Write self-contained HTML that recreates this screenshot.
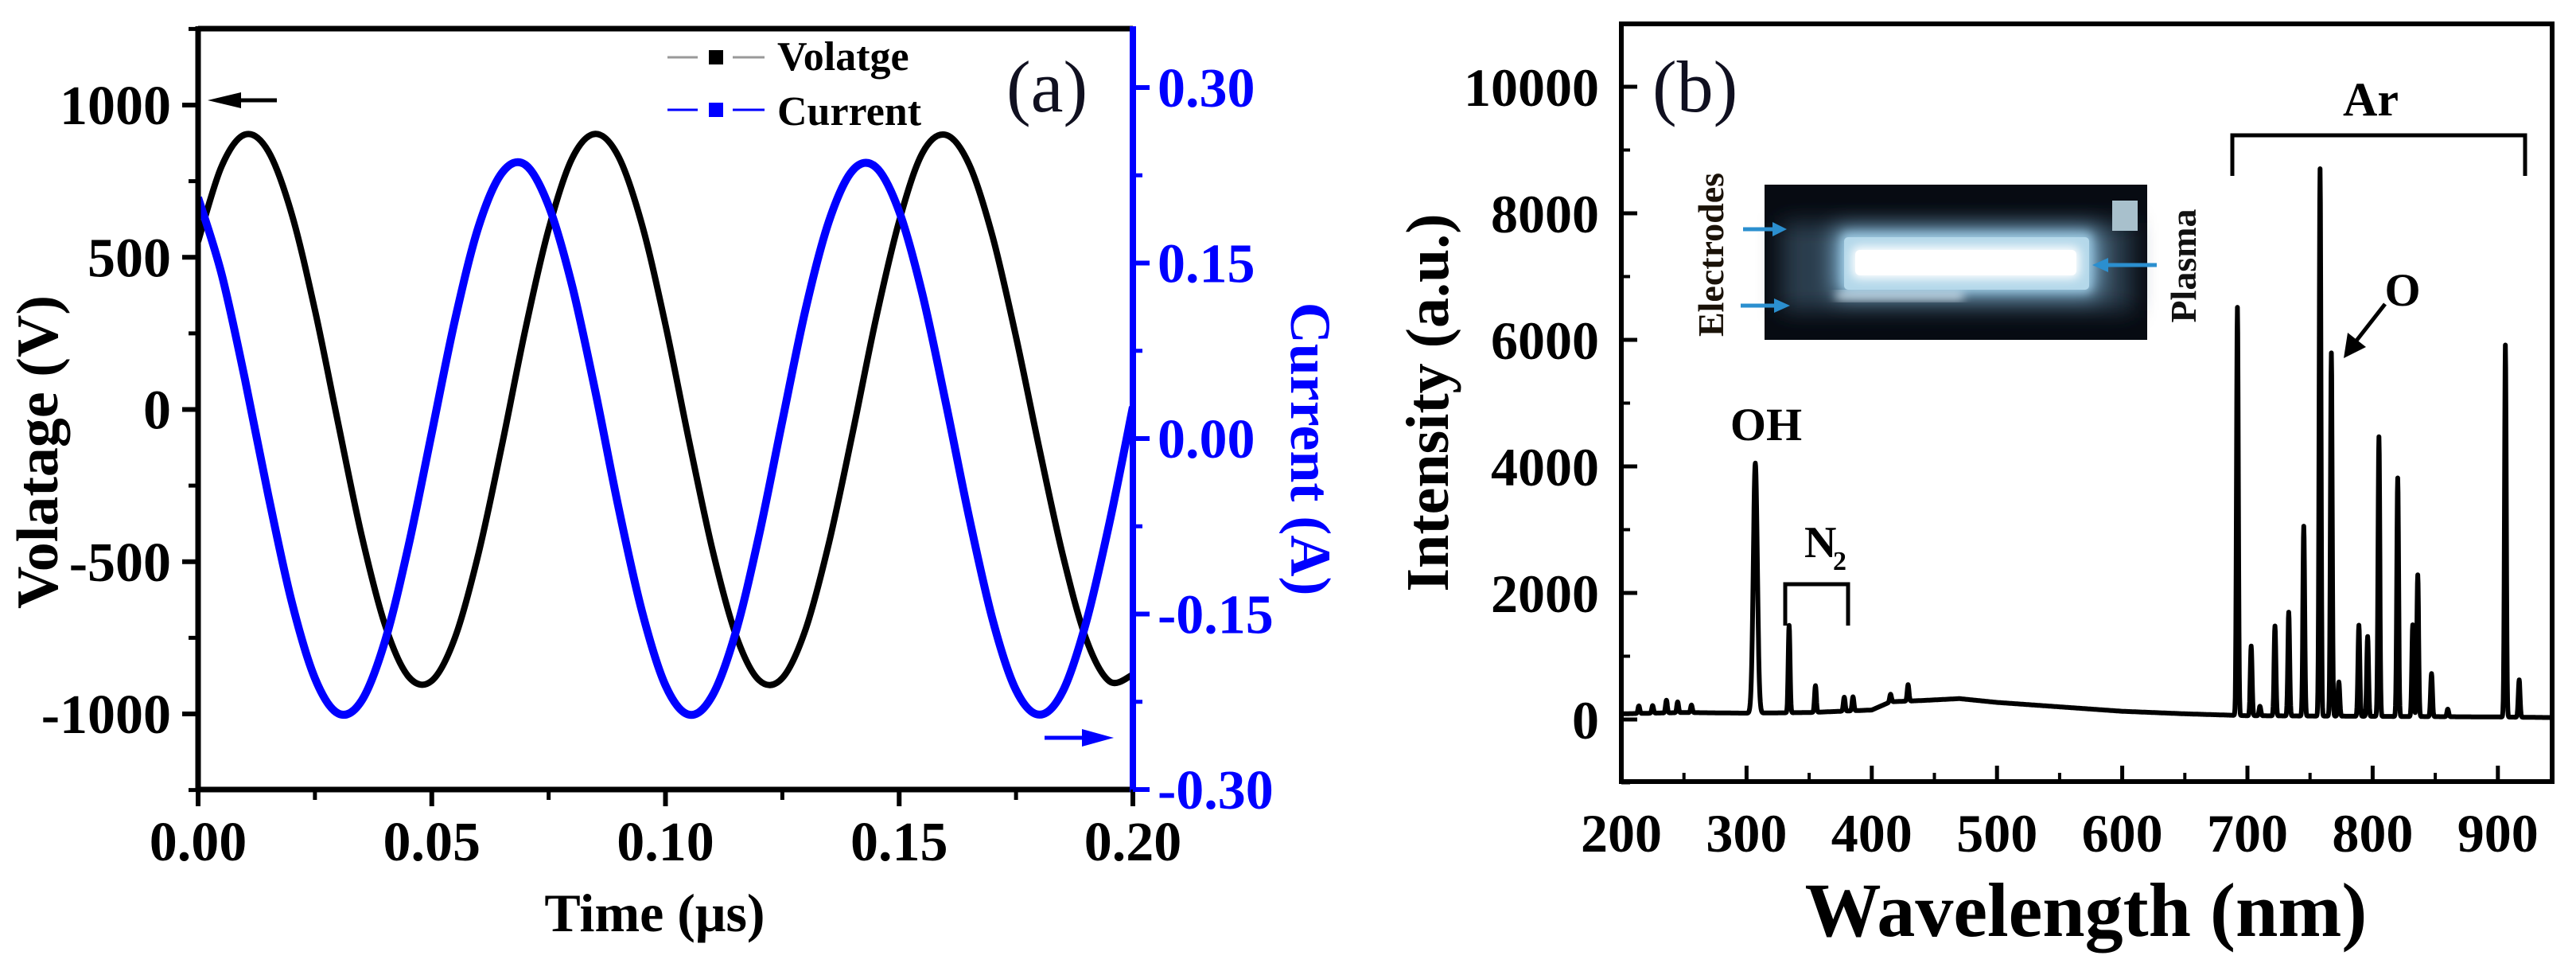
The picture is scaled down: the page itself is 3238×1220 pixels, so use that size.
<!DOCTYPE html>
<html><head><meta charset="utf-8">
<style>
html,body{margin:0;padding:0;background:#fff;}
svg{display:block;font-family:"Liberation Serif",serif;}
</style></head>
<body>
<svg id="fig" width="3238" height="1220" viewBox="0 0 3238 1220" xmlns="http://www.w3.org/2000/svg">
<defs>
  <filter id="blur6" x="-20%" y="-50%" width="140%" height="200%"><feGaussianBlur stdDeviation="6"/></filter>
  <filter id="blur14" x="-30%" y="-80%" width="160%" height="260%"><feGaussianBlur stdDeviation="14"/></filter>
</defs>
<g id="panelA"></g>
<g id="panelB"></g>
</svg>
<script>
// ---------- Panel (a) data ----------
const timeTicks = [0.00, 0.05, 0.10, 0.15, 0.20];
const voltTicks = [-1000, -500, 0, 500, 1000];
const currTicks = [-0.30, -0.15, 0.00, 0.15, 0.30];
const timeSamples = [0,0.005,0.01,0.015,0.02,0.025,0.03,0.035,0.04,0.045,0.05,0.055,0.06,0.065,0.07,0.075,0.08,0.085,0.09,0.095,0.1,0.105,0.11,0.115,0.12,0.125,0.13,0.135,0.14,0.145,0.15,0.155,0.16,0.165,0.17,0.175,0.18,0.185,0.19,0.195,0.2];
const voltageValues = [552,798,903,849,644,326,-48,-414,-708,-877,-891,-748,-473,-118,262,592,824,905,829,606,278,-100,-457,-738,-889,-882,-721,-437,-80,296,619,843,902,804,567,239,-129,-478,-754,-893,-871];
const currentValues = [0.206,0.141,0.051,-0.048,-0.139,-0.205,-0.235,-0.224,-0.173,-0.092,0.005,0.102,0.181,0.227,0.234,0.199,0.131,0.040,-0.060,-0.148,-0.211,-0.236,-0.220,-0.166,-0.083,0.015,0.111,0.186,0.229,0.232,0.194,0.123,0.030,-0.068,-0.155,-0.215,-0.236,-0.216,-0.157,-0.072,0.027];

// ---------- Panel (b) data ----------
const wlTicks = [200,300,400,500,600,700,800,900];
const intTicks = [0,2000,4000,6000,8000,10000];
const continuumWl = [200,250,300,350,400,415,440,470,500,550,600,650,700,750,800,850,900,945];
const continuumInt = [90,110,100,110,150,280,300,330,270,200,130,90,60,55,50,45,40,30];
const lineWl = [214,225,236,245,256,307,334,355,378,385,415,429,692,703,710,722,733,745,758,767,773,789,796,805,820,832,836,847,860,906,917];
const lineInt = [120,120,200,170,120,3950,1380,420,220,220,120,260,6450,1100,150,1420,1640,3000,8650,5740,540,1440,1260,4420,3770,1450,2240,680,120,5880,590];

const NS = "http://www.w3.org/2000/svg";
function mk(parent, tag, attrs, text){
  const e = document.createElementNS(NS, tag);
  for (const k in attrs) e.setAttribute(k, attrs[k]);
  if (text !== undefined) e.textContent = text;
  parent.appendChild(e);
  return e;
}
function smoothPath(pts){
  let d = "M" + pts[0][0].toFixed(1) + "," + pts[0][1].toFixed(1);
  for (let i = 0; i < pts.length - 1; i++){
    const p0 = pts[Math.max(0,i-1)], p1 = pts[i], p2 = pts[i+1], p3 = pts[Math.min(pts.length-1,i+2)];
    const c1x = p1[0] + (p2[0]-p0[0])/6, c1y = p1[1] + (p2[1]-p0[1])/6;
    const c2x = p2[0] - (p3[0]-p1[0])/6, c2y = p2[1] - (p3[1]-p1[1])/6;
    d += " C" + c1x.toFixed(1)+","+c1y.toFixed(1)+" "+c2x.toFixed(1)+","+c2y.toFixed(1)+" "+p2[0].toFixed(1)+","+p2[1].toFixed(1);
  }
  return d;
}

// ================= PANEL A =================
(function(){
  const g = document.getElementById('panelA');
  const L = 249, R = 1424, T = 36, B = 992;
  const xS = t => L + (t - 0) / 0.20 * (R - L);
  const yV = v => 514.5 - v * 0.3825;
  const yI = a => 551 - a * 1470;

  mk(g,'clipPath',{id:'clipA'});
  const cp = g.lastChild; mk(cp,'rect',{x:L,y:T,width:R-L,height:B-T});
  const vPts = timeSamples.map((t,i)=>[xS(t), yV(voltageValues[i])]);
  const cPts = timeSamples.map((t,i)=>[xS(t), yI(currentValues[i])]);
  const vLine = mk(g,'path',{d:smoothPath(vPts),fill:'none',stroke:'#000','stroke-width':8,'clip-path':'url(#clipA)'});
  
  
  const cLine = mk(g,'path',{d:smoothPath(cPts),fill:'none',stroke:'#0000ff','stroke-width':10,'clip-path':'url(#clipA)'});
  
  

  const top = mk(g,'line',{x1:L,y1:T,x2:R,y2:T,stroke:'#000','stroke-width':7});
   
  const bot = mk(g,'line',{x1:L-3,y1:B,x2:R,y2:B,stroke:'#000','stroke-width':7});
   
  const lef = mk(g,'line',{x1:L,y1:T-3,x2:L,y2:B+3,stroke:'#000','stroke-width':7});
   
  const rig = mk(g,'line',{x1:R,y1:T-3,x2:R,y2:B+3,stroke:'#0000ff','stroke-width':8});
   

  for (let i=0;i<timeTicks.length;i++){
    const x = xS(timeTicks[i]);
    mk(g,'line',{x1:x,y1:B,x2:x,y2:B+21,stroke:'#000','stroke-width':6});
    const t = mk(g,'text',{x:x,y:1081,'font-size':70,'font-weight':'bold','text-anchor':'middle'}, timeTicks[i].toFixed(2));
     
    if (i < timeTicks.length-1){
      const xm = xS(timeTicks[i]+0.025);
      mk(g,'line',{x1:xm,y1:B,x2:xm,y2:B+13,stroke:'#000','stroke-width':5});
    }
  }
  for (let i=0;i<voltTicks.length;i++){
    const y = yV(voltTicks[i]);
    mk(g,'line',{x1:L-20,y1:y,x2:L,y2:y,stroke:'#000','stroke-width':6});
    const t = mk(g,'text',{x:215,y:y+24,'font-size':70,'font-weight':'bold','text-anchor':'end'}, String(voltTicks[i]));
     
  }
  for (let v=-1250; v<=1250; v+=250){
    if (v % 500 === 0) continue;
    const y = yV(v);
    mk(g,'line',{x1:L-12,y1:y,x2:L,y2:y,stroke:'#000','stroke-width':5});
  }
  for (let i=0;i<currTicks.length;i++){
    const y = yI(currTicks[i]);
    mk(g,'line',{x1:R,y1:y,x2:R+21,y2:y,stroke:'#0000ff','stroke-width':6});
    const t = mk(g,'text',{x:1455,y:y+24,'font-size':70,'font-weight':'bold','fill':'#0000ff'}, currTicks[i].toFixed(2));
     
  }
  for (let a=-0.225; a<=0.33; a+=0.15){
    const y = yI(a);
    mk(g,'line',{x1:R,y1:y,x2:R+12,y2:y,stroke:'#0000ff','stroke-width':5});
  }
  const xt = mk(g,'text',{x:823,y:1170,'font-size':68,'font-weight':'bold','text-anchor':'middle'},'Time (\u03bcs)');
   
  const yt = mk(g,'text',{x:0,y:0,'font-size':74,'font-weight':'bold','text-anchor':'middle',transform:'translate(72,568) rotate(-90)'},'Volatage (V)');
   
  const rt = mk(g,'text',{x:0,y:0,'font-size':72,'font-weight':'bold','text-anchor':'middle','fill':'#0000ff',transform:'translate(1623,564) rotate(90)'},'Current (A)');
   

  const a1 = mk(g,'g',{});
   
  mk(a1,'line',{x1:300,y1:126,x2:348,y2:126,stroke:'#000','stroke-width':5});
  mk(a1,'path',{d:'M261,126 L303,116 L303,136 Z',fill:'#000'});
  const a2 = mk(g,'g',{});
   
  mk(a2,'line',{x1:1313,y1:927,x2:1365,y2:927,stroke:'#0000ff','stroke-width':5});
  mk(a2,'path',{d:'M1400,927 L1360,916 L1360,938 Z',fill:'#0000ff'});

  const lg = mk(g,'g',{});
   
  const e1 = mk(lg,'g',{});
   
  mk(e1,'line',{x1:839,y1:72,x2:877,y2:72,stroke:'#999','stroke-width':3});
  mk(e1,'line',{x1:921,y1:72,x2:961,y2:72,stroke:'#999','stroke-width':3});
  mk(e1,'rect',{x:891,y:63,width:18,height:18,fill:'#000'});
  mk(e1,'text',{x:977,y:88,'font-size':52,'font-weight':'bold'},'Volatge');
  const e2 = mk(lg,'g',{});
   
  mk(e2,'line',{x1:839,y1:138,x2:877,y2:138,stroke:'#0000ff','stroke-width':3});
  mk(e2,'line',{x1:921,y1:138,x2:961,y2:138,stroke:'#0000ff','stroke-width':3});
  mk(e2,'rect',{x:891,y:129,width:18,height:18,fill:'#0000ff'});
  mk(e2,'text',{x:977,y:157,'font-size':52,'font-weight':'bold'},'Current');
  const pa = mk(g,'text',{x:1265,y:140,'font-size':92,fill:'#101020'},'(a)');
   
})();

// ================= PANEL B =================
(function(){
  const g = document.getElementById('panelB');
  const L = 2038, R = 3208, T = 30, B = 982;
  const xW = w => L + (w - 200) * 1.574;
  const yN = v => 904 - v * 0.0795;

  mk(g,'clipPath',{id:'clipB'});
  mk(g.lastChild,'rect',{x:L,y:T,width:R-L,height:B-T});
  function cont(w){
    for (let i=0;i<continuumWl.length-1;i++){
      if (w>=continuumWl[i] && w<=continuumWl[i+1]){
        const f=(w-continuumWl[i])/(continuumWl[i+1]-continuumWl[i]);
        return continuumInt[i]+f*(continuumInt[i+1]-continuumInt[i]);
      }
    }
    return continuumInt[continuumInt.length-1];
  }
  let d = "";
  for (let w=200; w<=945; w+=0.25){
    let v = cont(w);
    for (let k=0;k<lineWl.length;k++){
      const s = lineWl[k]===307 ? 1.6 : 0.7;
      const z = (w-lineWl[k])/s;
      if (Math.abs(z)<6) v += lineInt[k]*Math.exp(-0.5*z*z);
    }
    d += (d?" L":"M") + xW(w).toFixed(1) + "," + yN(v).toFixed(1);
  }
  const sp = mk(g,'path',{d:d,fill:'none',stroke:'#000','stroke-width':6,'stroke-linejoin':'round','clip-path':'url(#clipB)'});
  
  

  const fr = mk(g,'rect',{x:L,y:T,width:R-L,height:B-T,fill:'none',stroke:'#000','stroke-width':6});
   

  for (let i=0;i<wlTicks.length;i++){
    const x = xW(wlTicks[i]);
    mk(g,'line',{x1:x,y1:B,x2:x,y2:B-20,stroke:'#000','stroke-width':5});
    const t = mk(g,'text',{x:x,y:1070,'font-size':68,'font-weight':'bold','text-anchor':'middle'}, String(wlTicks[i]));
     
    const xm = xW(wlTicks[i]+50);
    if (xm < R) mk(g,'line',{x1:xm,y1:B,x2:xm,y2:B-11,stroke:'#000','stroke-width':4});
  }
  for (let i=0;i<intTicks.length;i++){
    const y = yN(intTicks[i]);
    mk(g,'line',{x1:L,y1:y,x2:L+20,y2:y,stroke:'#000','stroke-width':5});
    const t = mk(g,'text',{x:2010,y:y+24,'font-size':68,'font-weight':'bold','text-anchor':'end'}, String(intTicks[i]));
     
  }
  for (let v=-1000; v<=11000; v+=2000){
    const y = yN(v);
    mk(g,'line',{x1:L,y1:y,x2:L+11,y2:y,stroke:'#000','stroke-width':4});
  }
  const xt = mk(g,'text',{x:2622,y:1176,'font-size':96,'font-weight':'bold','text-anchor':'middle'},'Wavelength (nm)');
   
  const yt = mk(g,'text',{x:0,y:0,'font-size':76,'font-weight':'bold','text-anchor':'middle',transform:'translate(1820,506) rotate(-90)'},'Intensity (a.u.)');
   

  const pb = mk(g,'text',{x:2077,y:140,'font-size':92,fill:'#101020'},'(b)');
   

  const ar = mk(g,'g',{});
   
  mk(ar,'path',{d:'M2806,221 L2806,170 L3174,170 L3174,221',fill:'none',stroke:'#000','stroke-width':5});
  mk(ar,'text',{x:2980,y:145,'font-size':60,'font-weight':'bold','text-anchor':'middle'},'Ar');
  const oh = mk(g,'text',{x:2220,y:553,'font-size':58,'font-weight':'bold','text-anchor':'middle'},'OH');
   
  const n2 = mk(g,'g',{});
   
  mk(n2,'path',{d:'M2244,786 L2244,734 L2323,734 L2323,786',fill:'none',stroke:'#000','stroke-width':5});
  mk(n2,'text',{x:2268,y:700,'font-size':56,'font-weight':'bold'},'N');
  mk(n2,'text',{x:2304,y:716,'font-size':34,'font-weight':'bold'},'2');
  const o = mk(g,'g',{});
   
  mk(o,'text',{x:3020,y:384,'font-size':58,'font-weight':'bold','text-anchor':'middle'},'O');
  mk(o,'line',{x1:2998,y1:382,x2:2962,y2:428,stroke:'#000','stroke-width':5});
  mk(o,'path',{d:'M2946,450 L2951,418 L2974,436 Z',fill:'#000'});

  const ins = mk(g,'g',{});
   
  mk(ins,'rect',{x:2218,y:232,width:481,height:195,fill:'#070b12'});
  mk(ins,'rect',{x:2240,y:280,width:440,height:110,fill:'#2c3e4e',filter:'url(#blur14)'});
  mk(ins,'rect',{x:2305,y:288,width:334,height:84,rx:8,fill:'#7fb0cf',filter:'url(#blur14)'});
  mk(ins,'rect',{x:2315,y:293,width:314,height:74,rx:6,fill:'#9cc8e0',filter:'url(#blur6)'});
  mk(ins,'rect',{x:2318,y:298,width:308,height:66,rx:5,fill:'#b4d8ea'});
  mk(ins,'rect',{x:2328,y:310,width:286,height:40,rx:8,fill:'#ffffff',filter:'url(#blur6)'});
  mk(ins,'rect',{x:2332,y:314,width:278,height:32,rx:6,fill:'#ffffff'});
  mk(ins,'rect',{x:2308,y:368,width:160,height:8,fill:'#e8f6ff',filter:'url(#blur6)'});
  mk(ins,'rect',{x:2655,y:252,width:32,height:38,fill:'#a8c0cc'});
  const arrowC = '#2b8fcf';
  mk(ins,'line',{x1:2191,y1:288,x2:2230,y2:288,stroke:arrowC,'stroke-width':5});
  mk(ins,'path',{d:'M2246,288 L2228,279 L2228,297 Z',fill:arrowC});
  mk(ins,'line',{x1:2188,y1:384,x2:2232,y2:384,stroke:arrowC,'stroke-width':5});
  mk(ins,'path',{d:'M2250,384 L2230,375 L2230,393 Z',fill:arrowC});
  mk(ins,'line',{x1:2711,y1:333,x2:2648,y2:333,stroke:arrowC,'stroke-width':5});
  mk(ins,'path',{d:'M2630,333 L2650,324 L2650,342 Z',fill:arrowC});
  const el = mk(g,'text',{x:0,y:0,'font-size':46,'font-weight':'bold','text-anchor':'middle',fill:'#1a1208',transform:'translate(2166,320) rotate(-90)'},'Electrodes');
   
  const pl = mk(g,'text',{x:0,y:0,'font-size':46,'font-weight':'bold','text-anchor':'middle',fill:'#111',transform:'translate(2760,334) rotate(-90)'},'Plasma');
   
})();
</script>
</body></html>
